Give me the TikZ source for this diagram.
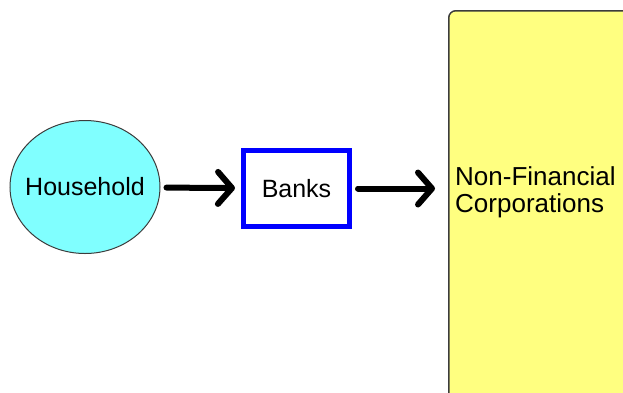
\documentclass[tikz,border=0pt]{standalone}
\usepackage{fontspec}
\setmainfont{Liberation Sans}
\usepackage{xcolor}
\usetikzlibrary{shapes,arrows.meta}
\definecolor{hhcyan}{RGB}{128,255,255}
\definecolor{nfcyellow}{RGB}{255,255,128}
\definecolor{edgegray}{RGB}{60,60,60}
\tikzset{sector/.style={ellipse,draw=edgegray,fill=hhcyan,line width=1pt,minimum width=150pt,minimum height=133pt,inner xsep=-8pt,inner ysep=0pt,font=\fontsize{25}{27}\selectfont}}
\tikzset{bank/.style={rectangle,draw=blue,line width=5pt,minimum width=106pt,minimum height=76pt,inner sep=0pt,font=\fontsize{25}{27}\selectfont}}
\tikzset{corp/.style={rectangle,rounded corners=7pt,draw=edgegray,line width=1.5pt,fill=nfcyellow,minimum width=220pt,minimum height=430pt,anchor=north west}}
\tikzset{flow/.style={line width=6pt,line cap=round,shorten <=6pt,shorten >=6pt}}

\begin{document}
\begin{tikzpicture}[x=1pt,y=-1pt,>={Straight Barb[length=14pt,width=32pt,round]}]
    \useasboundingbox (0,0) rectangle (623,392);
    \clip (0,0) rectangle (623,392);

    \node[sector] (hh) at (85,187) {Household};
    \node[bank] (banks) at (296.5,188.5) {Banks};
    \node[corp] (nfc) at (448,10) {};
    \node[anchor=west,align=left,inner sep=0pt,font=\fontsize{26}{27}\selectfont] (nfclabel) at (455,192) {Non-Financial\\Corporations};

    \draw [->,flow] (hh) to (banks);
    \draw [->,flow,shorten >=13pt] (banks) to (banks -| nfc.west);
\end{tikzpicture}
\end{document}
